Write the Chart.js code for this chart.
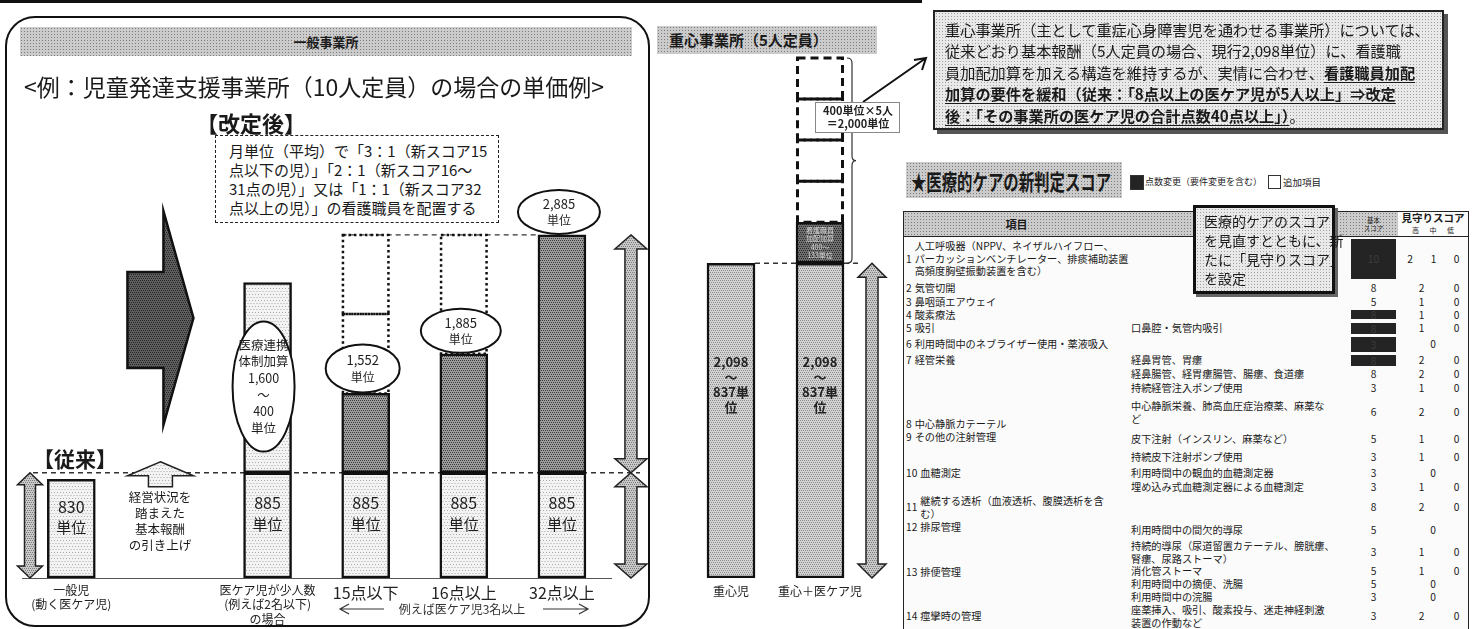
<!DOCTYPE html>
<html lang="ja">
<head>
<meta charset="utf-8">
<title>医療的ケア児 単価例</title>
<script src="https://cdn.jsdelivr.net/npm/chart.js@4.4.1/dist/chart.umd.min.js"></script>
<style>
  body { margin:0; width:1475px; height:629px; overflow:hidden; background:#fff; position:relative;
         font-family:"Noto Sans CJK JP","Noto Sans",sans-serif; color:#1a1a1a; }
  .abs { position:absolute; }
  .band { background: radial-gradient(circle, #7d7d7d 0.7px, transparent 0.9px) 0 0 / 3px 3px, #cbcbcb; }
  .speck { background: radial-gradient(circle, #a0a0a0 0.6px, transparent 0.8px) 0 0 / 3px 3px, #e9e9e9; }
  .dashbox { border:1.5px dashed #222; background:#fff; font-size:15px; line-height:19px; padding:5px 0 0 13px; box-sizing:border-box; }
  .note { border:2px solid #222; box-shadow:4px 4px 0 #555; font-size:15.2px; line-height:21.4px; padding:7px 0 0 10px; box-sizing:border-box; white-space:nowrap; }
  .note u { font-weight:700; text-underline-offset:3px; }
  #scoreTable { width:564px; border-collapse:collapse; font-size:10.2px; line-height:12.5px; table-layout:fixed; background:#fbfbfb; }
  #scoreTable td { padding:0; white-space:nowrap; overflow:hidden; vertical-align:middle; }
  #scoreTable .num { text-align:center; }
  .dark { background: radial-gradient(circle, #222 0.7px, transparent 0.9px) 0 0 / 2px 2px, #5a5a5a; color:#3d3d3d; margin:1px 2px; }
</style>
</head>
<body>

<div class="abs" style="left:0;top:0;width:922px;height:3px;background:#111"></div>
<div class="abs" style="left:5px;top:16px;width:641px;height:607px;border:2px solid #111;border-radius:30px"></div>

<div class="abs" style="left:0;top:0;width:650px;height:629px"><canvas id="generalChart" width="650" height="629"></canvas></div>
<div class="abs" style="left:650px;top:0;width:290px;height:629px"><canvas id="jushinChart" width="290" height="629"></canvas></div>

<div class="abs band" style="left:20px;top:27px;width:612px;height:29px;text-align:center;font-size:13px;font-weight:700;line-height:29px">一般事業所</div>
<div class="abs band" style="left:657px;top:26px;width:220px;height:28px;font-size:15px;font-weight:700;line-height:28px;padding-left:12px;box-sizing:border-box">重心事業所（5人定員）</div>

<div class="abs" style="left:24px;top:71px;font-size:23px;line-height:30px;white-space:nowrap">&lt;例：児童発達支援事業所（10人定員）の場合の単価例&gt;</div>
<div class="abs" style="left:196px;top:108px;font-size:22px;font-weight:700;line-height:28px">【改定後】</div>
<div class="abs dashbox" style="left:215px;top:135px;width:284px;height:88px;white-space:nowrap">月単位（平均）で「3：1（新スコア15<br>点以下の児）」「2：1（新スコア16～<br>31点の児）」又は「1：1（新スコア32<br>点以上の児）」の看護職員を配置する</div>
<div class="abs" style="left:33px;top:444px;font-size:21px;font-weight:700;line-height:28px">【従来】</div>
<div class="abs" style="left:110px;top:489px;width:100px;text-align:center;font-size:12.5px;line-height:16px">経営状況を<br>踏まえた<br>基本報酬<br>の引き上げ</div>

<div class="abs note speck" style="left:933px;top:10px;width:511px;height:120px">
  重心事業所（主として重症心身障害児を通わせる事業所）については、<br>
  従来どおり基本報酬（5人定員の場合、現行2,098単位）に、看護職<br>
  員加配加算を加える構造を維持するが、実情に合わせ、<u>看護職員加配</u><br>
  <u>加算の要件を緩和（従来：「8点以上の医ケア児が5人以上」⇒改定</u><br>
  <u>後：「その事業所の医ケア児の合計点数40点以上」）</u>。
</div>

<div class="abs band" style="left:906px;top:162px;width:216px;height:36px;overflow:hidden">
  <div style="font-size:22px;font-weight:700;line-height:36px;white-space:nowrap;transform:scaleX(0.7);transform-origin:left center;padding-left:7px">★医療的ケアの新判定スコア</div>
</div>
<div class="abs dark" style="left:1130px;top:175px;width:12px;height:13px;margin:0;border:1px solid #333"></div>
<div class="abs" style="left:1145px;top:175px;font-size:9px;line-height:14px;white-space:nowrap">点数変更（要件変更を含む）</div>
<div class="abs" style="left:1268px;top:175px;width:11px;height:12px;border:1px solid #333;background:#fff"></div>
<div class="abs" style="left:1283px;top:175px;font-size:9.5px;line-height:14px">追加項目</div>

<div class="abs" style="left:903px;top:211px;border:1.5px solid #222;border-bottom-width:1px">
  <table id="scoreTable"></table>
</div>
<div class="abs speck" style="left:1193px;top:205px;width:142px;height:89px;border:3px solid #111;box-shadow:3px 3px 0 #666;box-sizing:border-box;font-size:14px;line-height:19px;padding:4px 0 0 8px;white-space:nowrap">医療的ケアのスコア<br>を見直すとともに、新<br>たに「見守りスコア」<br>を設定</div>

<script>
// ---- 一般事業所（児童発達支援・10人定員）----
const generalCategories = [['一般児', '(動く医ケア児)'], '', ['医ケア児が少人数', '(例えば2名以下)', 'の場合'], '15点以下', '16点以上', '32点以上'];
const generalBase = [830, null, 885, 885, 885, 885];
const renkeiAddon = [null, null, 1600, null, null, null];   // 医療連携体制加算 1,600～400
const nurseAddon = [null, null, null, 667, 1000, 2000];     // 看護職員の配置による上乗せ
const dottedUpper1 = [null, null, null, 667, 1000, null];
const dottedUpper2 = [null, null, null, 666, null, null];
const baseLabels = ['830', '', '885', '885', '885', '885'];
const totalLabels = ['', '', '', '1,552', '1,885', '2,885'];

// ---- 重心事業所（5人定員）----
const jushinCategories = ['重心児', '重心＋医ケア児'];
const jushinBase = [2098, 2098];
const kahaiAddon = [null, 400];                              // 看護職員加配加算
const kahaiFrames = [[null, 400], [null, 400], [null, 400], [null, 400]];

// ---- 医療的ケアの新判定スコア ----
// [番号, 項目, 細目, 基本スコア, 見守りスコア, 点数変更]
const scoreRows = [
  ['1', '人工呼吸器（NPPV、ネイザルハイフロー、|パーカッションベンチレーター、排痰補助装置、|高頻度胸壁振動装置を含む）', '', '10', ['2', '1', '0'], true],
  ['2', '気管切開', '', '8', ['2', '0'], false],
  ['3', '鼻咽頭エアウェイ', '', '5', ['1', '0'], false],
  ['4', '酸素療法', '', '8', ['1', '0'], true],
  ['5', '吸引', '口鼻腔・気管内吸引', '8', ['1', '0'], true],
  ['6', '利用時間中のネブライザー使用・薬液吸入', '', '3', ['0'], true],
  ['7', '経管栄養', '経鼻胃管、胃瘻', '8', ['2', '0'], true],
  [null, null, '経鼻腸管、経胃瘻腸管、腸瘻、食道瘻', '8', ['2', '0'], false],
  [null, null, '持続経管注入ポンプ使用', '3', ['1', '0'], false],
  ['8', '中心静脈カテーテル', '中心静脈栄養、肺高血圧症治療薬、麻薬な|ど', '6', ['2', '0'], false],
  ['9', 'その他の注射管理', '皮下注射（インスリン、麻薬など）', '5', ['1', '0'], false],
  [null, null, '持続皮下注射ポンプ使用', '3', ['1', '0'], false],
  ['10', '血糖測定', '利用時間中の観血的血糖測定器', '3', ['0'], false],
  [null, null, '埋め込み式血糖測定器による血糖測定', '3', ['1', '0'], false],
  ['11', '継続する透析（血液透析、腹膜透析を含|む）', '', '8', ['2', '0'], false],
  ['12', '排尿管理', '利用時間中の間欠的導尿', '5', ['0'], false],
  [null, null, '持続的導尿（尿道留置カテーテル、膀胱瘻、|腎瘻、尿路ストーマ）', '3', ['1', '0'], false],
  ['13', '排便管理', '消化管ストーマ', '5', ['1', '0'], false],
  [null, null, '利用時間中の摘便、洗腸', '5', ['0'], false],
  [null, null, '利用時間中の浣腸', '3', ['0'], false],
  ['14', '痙攣時の管理', '座薬挿入、吸引、酸素投与、迷走神経刺激|装置の作動など', '3', ['2', '0'], false]
];
const scoreRowHeights = [44, 15, 13, 12, 14, 18, 14, 15, 13, 35, 19, 17, 14, 15, 22, 20, 22, 13, 13, 13, 25];

const JP = '"Noto Sans CJK JP", sans-serif';

function makePattern(bg, dot, step) {
  const c = document.createElement('canvas');
  c.width = c.height = step * 4;
  const g = c.getContext('2d');
  g.fillStyle = bg;
  g.fillRect(0, 0, c.width, c.height);
  g.fillStyle = dot;
  for (let yy = 0; yy < c.height; yy += step) {
    for (let xx = (yy / step) % 2 ? step / 2 : 0; xx < c.width; xx += step) g.fillRect(xx, yy, 1, 1);
  }
  return g.createPattern(c, 'repeat');
}

const lightFill = makePattern('#f3f3f3', '#a9a9a9', 3);
const darkFill = makePattern('#9c9c9c', '#3c3c3c', 2);
const midFill = makePattern('#d2d2d2', '#8e8e8e', 2);
const kahaiFill = makePattern('#6e6e6e', '#2a2a2a', 2);
const arrowFill = makePattern('#5e5e5e', '#262626', 2);
const grayArrowFill = makePattern('#c8c8c8', '#7a7a7a', 2);

function poly(ctx, pts, fill, stroke, lw) {
  ctx.beginPath();
  pts.forEach((p, i) => i ? ctx.lineTo(p[0], p[1]) : ctx.moveTo(p[0], p[1]));
  ctx.closePath();
  ctx.fillStyle = fill;
  ctx.fill();
  ctx.lineWidth = lw;
  ctx.strokeStyle = stroke;
  ctx.stroke();
}

function doubleArrow(ctx, cx, y1, y2, w, s, h) {
  poly(ctx, [
    [cx, y1], [cx + w / 2, y1 + h], [cx + s / 2, y1 + h], [cx + s / 2, y2 - h], [cx + w / 2, y2 - h],
    [cx, y2], [cx - w / 2, y2 - h], [cx - s / 2, y2 - h], [cx - s / 2, y1 + h], [cx - w / 2, y1 + h]
  ], grayArrowFill, '#222', 1.5);
}

function textLines(ctx, lines, cx, cy, pitch, font, color) {
  ctx.font = font;
  ctx.fillStyle = color || '#1e1e1e';
  ctx.textAlign = 'center';
  ctx.textBaseline = 'middle';
  const start = cy - (lines.length - 1) * pitch / 2;
  lines.forEach((t, i) => ctx.fillText(t, cx, start + i * pitch));
}

function ellipse(ctx, cx, cy, rx, ry) {
  ctx.beginPath();
  ctx.ellipse(cx, cy, rx, ry, 0, 0, Math.PI * 2);
  ctx.fillStyle = '#fff';
  ctx.fill();
  ctx.lineWidth = 2;
  ctx.strokeStyle = '#111';
  ctx.stroke();
}

function hLine(ctx, x1, x2, yy, dash) {
  ctx.save();
  ctx.setLineDash(dash);
  ctx.strokeStyle = '#333';
  ctx.lineWidth = 1.3;
  ctx.beginPath();
  ctx.moveTo(x1, yy);
  ctx.lineTo(x2, yy);
  ctx.stroke();
  ctx.restore();
}

function outlineBar(ctx, el, dash, lw) {
  ctx.save();
  ctx.setLineDash(dash);
  ctx.strokeStyle = '#111';
  ctx.lineWidth = lw;
  ctx.strokeRect(el.x - el.width / 2 + lw / 2, el.y, el.width - lw, el.base - el.y);
  ctx.restore();
}

const generalDecor = {
  id: 'generalDecor',
  beforeDatasetsDraw(chart) {
    const { ctx, scales: { x, y } } = chart;
    const lvlBase = y.getPixelForValue(generalBase[2]);
    const lvlTop = y.getPixelForValue(generalBase[5] + nurseAddon[5]);
    hLine(ctx, 33, 640, lvlBase, [5, 4]);
    hLine(ctx, x.getPixelForValue(3) - 24, x.getPixelForValue(5) - 24, lvlTop, [5, 4]);
  },
  afterDatasetsDraw(chart) {
    const { ctx, scales: { x, y }, chartArea } = chart;
    const bottom = chartArea.bottom;
    const lvlBase = y.getPixelForValue(generalBase[2]);
    const lvlTop = y.getPixelForValue(generalBase[5] + nurseAddon[5]);
    ctx.save();

    // dotted frames above 15点以下・16点以上
    [3, 4].forEach(d => chart.getDatasetMeta(d).data.forEach((el, i) => {
      if (chart.data.datasets[d].data[i] != null) outlineBar(ctx, el, [2.5, 3], 2.5);
    }));

    // labels inside base segments
    chart.getDatasetMeta(0).data.forEach((el, i) => {
      if (!baseLabels[i]) return;
      const mid = (el.y + el.base) / 2;
      textLines(ctx, [baseLabels[i]], el.x, mid - 22, 0, '16px ' + JP);
      textLines(ctx, ['単位'], el.x, mid - 1, 0, '15px ' + JP);
    });

    // 医療連携体制加算 ellipse
    const rEl = chart.getDatasetMeta(1).data[2];
    const rMid = (rEl.y + rEl.base) / 2 + 9;
    ellipse(ctx, rEl.x - 4, rMid, 31, 65);
    textLines(ctx, ['医療連携', '体制加算', '1,600', '～', '400', '単位'], rEl.x - 4, rMid, 16.6, '12.5px ' + JP);

    // total ellipses
    const nMeta = chart.getDatasetMeta(2);
    [[3, 37, 24], [4, 40, 22], [5, 41, 22]].forEach(([i, rx, ry]) => {
      const el = nMeta.data[i];
      const cy = el.y - ry - 1;
      ellipse(ctx, el.x - 3, cy, rx, ry);
      textLines(ctx, [totalLabels[i]], el.x - 3, cy - 8, 0, '13px ' + JP);
      textLines(ctx, ['単位'], el.x - 3, cy + 9, 0, '12px ' + JP);
    });

    // big right arrow (従来 → 改定後)
    const ac = x.getPixelForValue(1);
    poly(ctx, [
      [ac - 42, 272], [ac - 6, 272], [ac - 6, 211], [ac + 24, 318], [ac - 6, 425], [ac - 6, 368], [ac - 42, 368]
    ], arrowFill, '#111', 2.5);

    // small up arrow (基本報酬の引き上げ)
    poly(ctx, [
      [ac - 9, lvlBase - 11], [ac + 24, lvlBase + 3], [ac + 3, lvlBase + 3], [ac + 3, lvlBase + 14],
      [ac - 21, lvlBase + 14], [ac - 21, lvlBase + 3], [ac - 42, lvlBase + 3]
    ], lightFill, '#222', 1.5);

    // double arrows
    doubleArrow(ctx, 30, lvlBase, bottom, 25, 11, 12);
    const rx = x.getPixelForValue(5) + 69;
    doubleArrow(ctx, rx, lvlTop, lvlBase, 32, 12, 14);
    doubleArrow(ctx, rx, lvlBase, bottom, 32, 12, 14);

    // range note under the bars
    const ny = 609;
    ctx.strokeStyle = '#333';
    ctx.lineWidth = 1.2;
    ctx.setLineDash([]);
    ctx.beginPath();
    ctx.moveTo(384, ny); ctx.lineTo(340, ny); ctx.moveTo(349, ny - 5); ctx.lineTo(340, ny); ctx.lineTo(349, ny + 5);
    ctx.moveTo(543, ny); ctx.lineTo(588, ny); ctx.moveTo(579, ny - 5); ctx.lineTo(588, ny); ctx.lineTo(579, ny + 5);
    ctx.stroke();
    textLines(ctx, ['例えば医ケア児3名以上'], 462, ny, 0, '12px ' + JP, '#333');
    ctx.restore();
  }
};

const jushinDecor = {
  id: 'jushinDecor',
  beforeDatasetsDraw(chart) {
    const { ctx } = chart;
    const b0 = chart.getDatasetMeta(0).data[0];
    const b1 = chart.getDatasetMeta(0).data[1];
    hLine(ctx, b0.x + 24, b1.x - 24, b1.y, [5, 4]);
    hLine(ctx, b1.x + 24, b1.x + 42, b1.y, [5, 4]);
  },
  afterDatasetsDraw(chart) {
    const { ctx, chartArea } = chart;
    ctx.save();
    chart.data.datasets.forEach((ds, d) => {
      if (!ds.frame) return;
      outlineBar(ctx, chart.getDatasetMeta(d).data[1], [8, 5], 3);
    });

    chart.getDatasetMeta(0).data.forEach(el => {
      textLines(ctx, ['2,098', '～', '837単', '位'], el.x, (el.y + el.base) / 2 - 36, 15, 'bold 13px ' + JP, '#222');
    });
    const k = chart.getDatasetMeta(1).data[1];
    textLines(ctx, ['看護職員', '加配加算', '400～', '133単位'], k.x, (k.y + k.base) / 2, 8.5, '7px ' + JP, '#d8d8d8');

    // brace over 5 × 400
    const last = chart.getDatasetMeta(chart.data.datasets.length - 1).data[1];
    const bx = k.x + 32, t = last.y, b = k.base, m = (t + b) / 2;
    ctx.strokeStyle = '#333';
    ctx.lineWidth = 1.2;
    ctx.beginPath();
    ctx.moveTo(bx - 5, t); ctx.quadraticCurveTo(bx, t, bx, t + 5);
    ctx.lineTo(bx, m - 5); ctx.quadraticCurveTo(bx, m, bx + 4, m);
    ctx.quadraticCurveTo(bx, m, bx, m + 5);
    ctx.lineTo(bx, b - 5); ctx.quadraticCurveTo(bx, b, bx - 5, b);
    ctx.stroke();

    // double arrow beside 重心＋医ケア児
    doubleArrow(ctx, k.x + 52, k.base, chartArea.bottom, 28, 12, 14);

    // callout arrow to the note box
    const lx = k.x - 5, ly = t + 44;
    ctx.strokeStyle = '#111';
    ctx.lineWidth = 2;
    ctx.beginPath();
    ctx.moveTo(lx + 48, ly); ctx.lineTo(276, 58);
    ctx.moveTo(264, 60); ctx.lineTo(276, 58); ctx.lineTo(272, 70);
    ctx.stroke();

    ctx.fillStyle = '#fff';
    ctx.fillRect(lx, ly, 85, 31);
    ctx.strokeStyle = '#888';
    ctx.lineWidth = 1;
    ctx.strokeRect(lx + 0.5, ly + 0.5, 84, 30);
    textLines(ctx, ['400単位×5人', '＝2,000単位'], lx + 43, ly + 15.5, 13, 'bold 11px ' + JP, '#222');
    ctx.restore();
  }
};

const barDefaults = { barThickness: 48, borderSkipped: false, borderWidth: 2.5, borderColor: '#111' };

new Chart(document.getElementById('generalChart'), {
  type: 'bar',
  data: {
    labels: generalCategories,
    datasets: [
      { label: '基本報酬', data: generalBase, backgroundColor: lightFill },
      { label: '医療連携体制加算', data: renkeiAddon, backgroundColor: lightFill },
      { label: '看護職員配置', data: nurseAddon, backgroundColor: darkFill },
      { label: '上限1', data: dottedUpper1, backgroundColor: 'rgba(0,0,0,0)', borderWidth: 0 },
      { label: '上限2', data: dottedUpper2, backgroundColor: 'rgba(0,0,0,0)', borderWidth: 0 }
    ]
  },
  options: {
    responsive: false,
    animation: false,
    devicePixelRatio: 1,
    datasets: { bar: barDefaults },
    layout: { padding: { left: 22.25, right: 39, top: 0, bottom: 0 } },
    plugins: { legend: { display: false }, tooltip: { enabled: false } },
    scales: {
      x: {
        stacked: true,
        grid: { display: false, drawTicks: false },
        border: { display: true, color: '#555', width: 1 },
        afterFit: (s) => { s.height = 51; },
        ticks: {
          autoSkip: false,
          maxRotation: 0,
          padding: 5,
          color: '#222',
          font: (c) => c.index >= 3 ? { family: JP, size: 16, lineHeight: 1.2 } : { family: JP, size: 12, lineHeight: 1.2 }
        }
      },
      y: { stacked: true, display: false, min: 0, max: 4860 }
    }
  },
  plugins: [generalDecor]
});

// The original draws the 5 × 400 add-on block more compactly than the base bar,
// so it sits on its own value axis (y2) whose zero lines up with the top of 2,098.
new Chart(document.getElementById('jushinChart'), {
  type: 'bar',
  data: {
    labels: jushinCategories,
    datasets: [
      { label: '基本報酬', data: jushinBase, backgroundColor: midFill, yAxisID: 'y' },
      { label: '看護職員加配加算', data: kahaiAddon, backgroundColor: kahaiFill, yAxisID: 'y2' },
      ...kahaiFrames.map((d, i) => ({ label: '加配枠' + (i + 2), data: d, backgroundColor: 'rgba(0,0,0,0)', borderWidth: 0, frame: true, yAxisID: 'y2' }))
    ]
  },
  options: {
    responsive: false,
    animation: false,
    devicePixelRatio: 1,
    datasets: { bar: barDefaults },
    layout: { padding: { left: 36.5, right: 75.5, top: 0, bottom: 0 } },
    plugins: { legend: { display: false }, tooltip: { enabled: false } },
    scales: {
      x: {
        stacked: true,
        grid: { display: false, drawTicks: false },
        border: { display: false },
        afterFit: (s) => { s.height = 51; },
        ticks: { autoSkip: false, maxRotation: 0, padding: 6, color: '#222', font: { family: JP, size: 12 } }
      },
      y: { stacked: true, display: false, min: 0, max: 3853 },
      y2: { stacked: true, display: false, min: -3066, max: 2565 }
    }
  },
  plugins: [jushinDecor]
});

// score table
(function buildTable() {
  const table = document.getElementById('scoreTable');
  const cols = [225, 220, 49, 24, 23, 23];
  let html = '<colgroup>' + cols.map(w => `<col style="width:${w}px">`).join('') + '</colgroup>';
  html += '<tr style="height:22px;border-bottom:1.5px solid #222">' +
    '<td class="band" style="text-align:center;font-weight:700;font-size:11px">項目</td>' +
    '<td class="band"></td>' +
    '<td class="band num" style="font-size:6.5px;line-height:8px">基本<br>スコア</td>' +
    '<td colspan="3" class="num" style="font-size:10.5px;font-weight:700;line-height:11px">見守りスコア<br><span style="font-size:7px;font-weight:400;word-spacing:9px">高 中 低</span></td></tr>';
  scoreRows.forEach((r, i) => {
    const [no, item, sub, base, watch, changed] = r;
    html += `<tr style="height:${scoreRowHeights[i]}px">`;
    if (no !== null) {
      let span = 1;
      while (scoreRows[i + span] && scoreRows[i + span][0] === null) span++;
      const va = no === '8' ? 'bottom' : (span > 1 ? 'top' : 'middle');
      const pad = span > 1 ? 'padding-top:1px' : '';
      html += `<td rowspan="${span}" style="vertical-align:${va};${pad}"><div style="display:flex;align-items:center;gap:3px;padding-left:2px">` +
        `<span>${no}</span><span>${item.split('|').join('<br>')}</span></div></td>`;
    }
    html += `<td style="padding-left:2px">${sub.split('|').join('<br>')}</td>`;
    html += changed
      ? `<td class="num"><div class="dark" style="height:${Math.min(scoreRowHeights[i] - 3, 40)}px;line-height:${Math.min(scoreRowHeights[i] - 3, 40)}px">${base}</div></td>`
      : `<td class="num">${base}</td>`;
    if (watch.length === 3) html += watch.map(v => `<td class="num">${v}</td>`).join('');
    else if (watch.length === 2) html += `<td colspan="2" class="num">${watch[0]}</td><td class="num">${watch[1]}</td>`;
    else html += `<td colspan="3" class="num">${watch[0]}</td>`;
    html += '</tr>';
  });
  table.innerHTML = html;
})();
</script>
</body>
</html>
